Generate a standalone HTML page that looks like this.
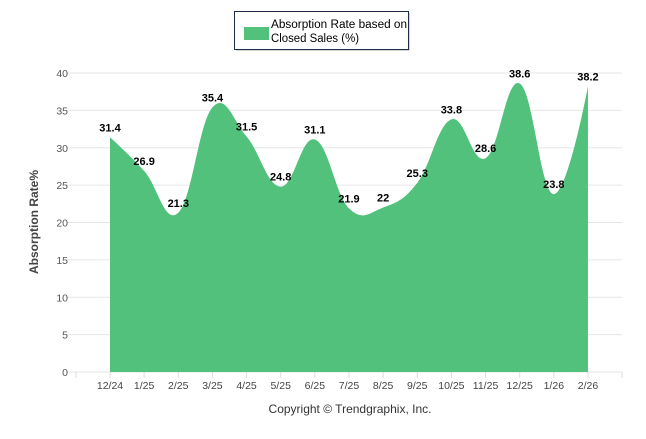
<!DOCTYPE html>
<html><head><meta charset="utf-8"><style>
body{margin:0;background:#fff;}
svg text{font-family:"Liberation Sans",Arial,sans-serif;}
</style></head><body>
<svg id="c" width="646" height="434" xmlns="http://www.w3.org/2000/svg">
<g>
<rect x="236" y="13" width="174" height="38" fill="#999" opacity="0.4"/>
<rect x="234.5" y="11.5" width="174" height="38" fill="#fff" stroke="#1f2d4d"/>
<rect x="244" y="27" width="25" height="13" fill="#52c17c"/>
<text x="271" y="28" font-size="11.5" textLength="136" lengthAdjust="spacingAndGlyphs" fill="#000">Absorption Rate based on</text>
<text x="271" y="42" font-size="11.5" textLength="88" lengthAdjust="spacingAndGlyphs" fill="#000">Closed Sales (%)</text>
</g>
<g id="grid"></g><g id="series"></g><g id="axes"></g><g id="labels"></g>
<text x="38" y="222" transform="rotate(-90 38 222)" text-anchor="middle" font-size="12" font-weight="bold" fill="#444">Absorption Rate%</text>
<text x="350" y="413" text-anchor="middle" font-size="12" fill="#333">Copyright © Trendgraphix, Inc.</text>
</svg>
<script>
const categories=["12/24","1/25","2/25","3/25","4/25","5/25","6/25","7/25","8/25","9/25","10/25","11/25","12/25","1/26","2/26"];
const values=[31.4,26.9,21.3,35.4,31.5,24.8,31.1,21.9,22,25.3,33.8,28.6,38.6,23.8,38.2];
const yTicks=[0,5,10,15,20,25,30,35,40];
const NS="http://www.w3.org/2000/svg";
const step=34.14,L=110-step,R=L+16*step,Y0=372,Y40=73;
const xs=i=>L+step*(i+1);
const ys=v=>Y0-(v/40)*(Y0-Y40);
function mk(t,a,p){const e=document.createElementNS(NS,t);for(const k in a)e.setAttribute(k,a[k]);p.appendChild(e);return e;}
const grid=document.getElementById('grid'),axes=document.getElementById('axes'),lab=document.getElementById('labels'),ser=document.getElementById('series');
yTicks.forEach(t=>{
 const g=mk('line',{x1:L-10,x2:R,y1:ys(t),y2:ys(t),stroke:'#e6e6e6','stroke-width':1},grid);
 
 
 const tx=mk('text',{x:68,y:ys(t)+4,'text-anchor':'end','font-size':10.5,fill:'#555'},axes);
 tx.textContent=t;
 
 
});
for(let i=0;i<=16;i++){
 const tk=mk('line',{x1:L+step*i,x2:L+step*i,y1:Y0,y2:Y0+6,stroke:'#ddd'},axes);
 
 
}
categories.forEach((c,i)=>{
 const t=mk('text',{x:xs(i),y:389,'text-anchor':'middle','font-size':10.5,fill:'#444'},axes);
 t.textContent=c;
 
 
});
const pts=values.map((v,i)=>[xs(i),ys(v)]);
const sm=1.5,den=sm+1;
let d=`M${pts[0][0]},${Y0} L${pts[0][0]},${pts[0][1]}`;
function ctrl(i){
 const p=pts[i],pr=pts[i-1],nx=pts[i+1];
 if(!pr||!nx)return null;
 let lx=(sm*p[0]+pr[0])/den,ly=(sm*p[1]+pr[1])/den,rx=(sm*p[0]+nx[0])/den,ry=(sm*p[1]+nx[1])/den;
 let corr=0;if(rx!==lx)corr=((ry-ly)*(rx-p[0]))/(rx-lx)+p[1]-ry;
 ly+=corr;ry+=corr;
 return {l:[lx,ly],r:[rx,ry]};
}
const cs=pts.map((p,i)=>ctrl(i));
for(let i=1;i<pts.length;i++){
 const a=cs[i-1]?cs[i-1].r:pts[i-1];
 const b=cs[i]?cs[i].l:pts[i];
 d+=` C${a[0]},${a[1]} ${b[0]},${b[1]} ${pts[i][0]},${pts[i][1]}`;
}
d+=` L${pts[pts.length-1][0]},${Y0} Z`;
const area=mk('path',{d:d,fill:'#52c17c'},ser);


values.forEach((v,i)=>{
 const t=mk('text',{x:xs(i),y:ys(v)-6,'text-anchor':'middle','font-size':11,'font-weight':'bold',fill:'#000'},lab);
 t.textContent=v;
 
 
});
</script>
</body></html>
